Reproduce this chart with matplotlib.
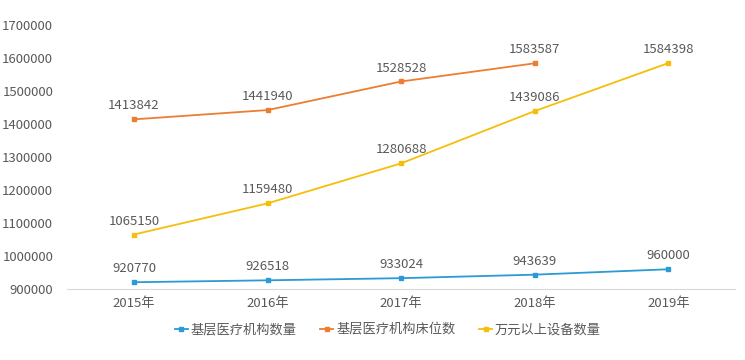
import numpy as np
import matplotlib
matplotlib.use("Agg")
import matplotlib.pyplot as plt

plt.rcParams['font.family'] = ['Noto Sans CJK SC', 'DejaVu Sans']

years = ["2015年", "2016年", "2017年", "2018年", "2019年"]
institutions = [920770, 926518, 933024, 943639, 960000]
beds = [1413842, 1441940, 1528528, 1583587]
equipment = [1065150, 1159480, 1280688, 1439086, 1584398]

names = ["基层医疗机构数量", "基层医疗机构床位数", "万元以上设备数量"]
colors = ["#2B9AD5", "#ED7D31", "#F5BE0B"]
series = [institutions, beds, equipment]

fig = plt.figure(figsize=(7.45, 3.6), dpi=100)
ax = fig.add_axes([0.09, 0.197, 0.897, 0.734])

x = np.arange(len(years))
for vals, name, c in zip(series, names, colors):
    xs = x[:len(vals)]
    ax.plot(xs, vals, color=c, lw=1.3, marker="s", markersize=3.5, label=name)
    for xi, v in zip(xs, vals):
        ax.annotate(str(v), (xi, v), xytext=(0, 5), textcoords="offset points",
                    ha="center", va="bottom", fontsize=9.5, color="#595959")

ax.set_xlim(-0.5, 4.5)
ax.set_ylim(900000, 1700000)
ax.set_yticks(range(900000, 1700001, 100000))
ax.set_yticklabels([str(v) for v in range(900000, 1700001, 100000)])
ax.set_xticks(x)
ax.set_xticklabels(years)
ax.tick_params(length=0, labelsize=9.5, colors="#595959")
ax.tick_params(axis="x", pad=6)
ax.tick_params(axis="y", pad=10)
for s in ["top", "right", "left"]:
    ax.spines[s].set_visible(False)
ax.spines["bottom"].set_color("#D9D9D9")

ax.legend(loc="center", bbox_to_anchor=(0.48, -0.155), ncol=3, frameon=False,
          fontsize=9.5, labelcolor="#595959", handlelength=1.0, handletextpad=0.2,
          columnspacing=1.8, markerscale=0.9)

fig.savefig("out.png", dpi=100)
